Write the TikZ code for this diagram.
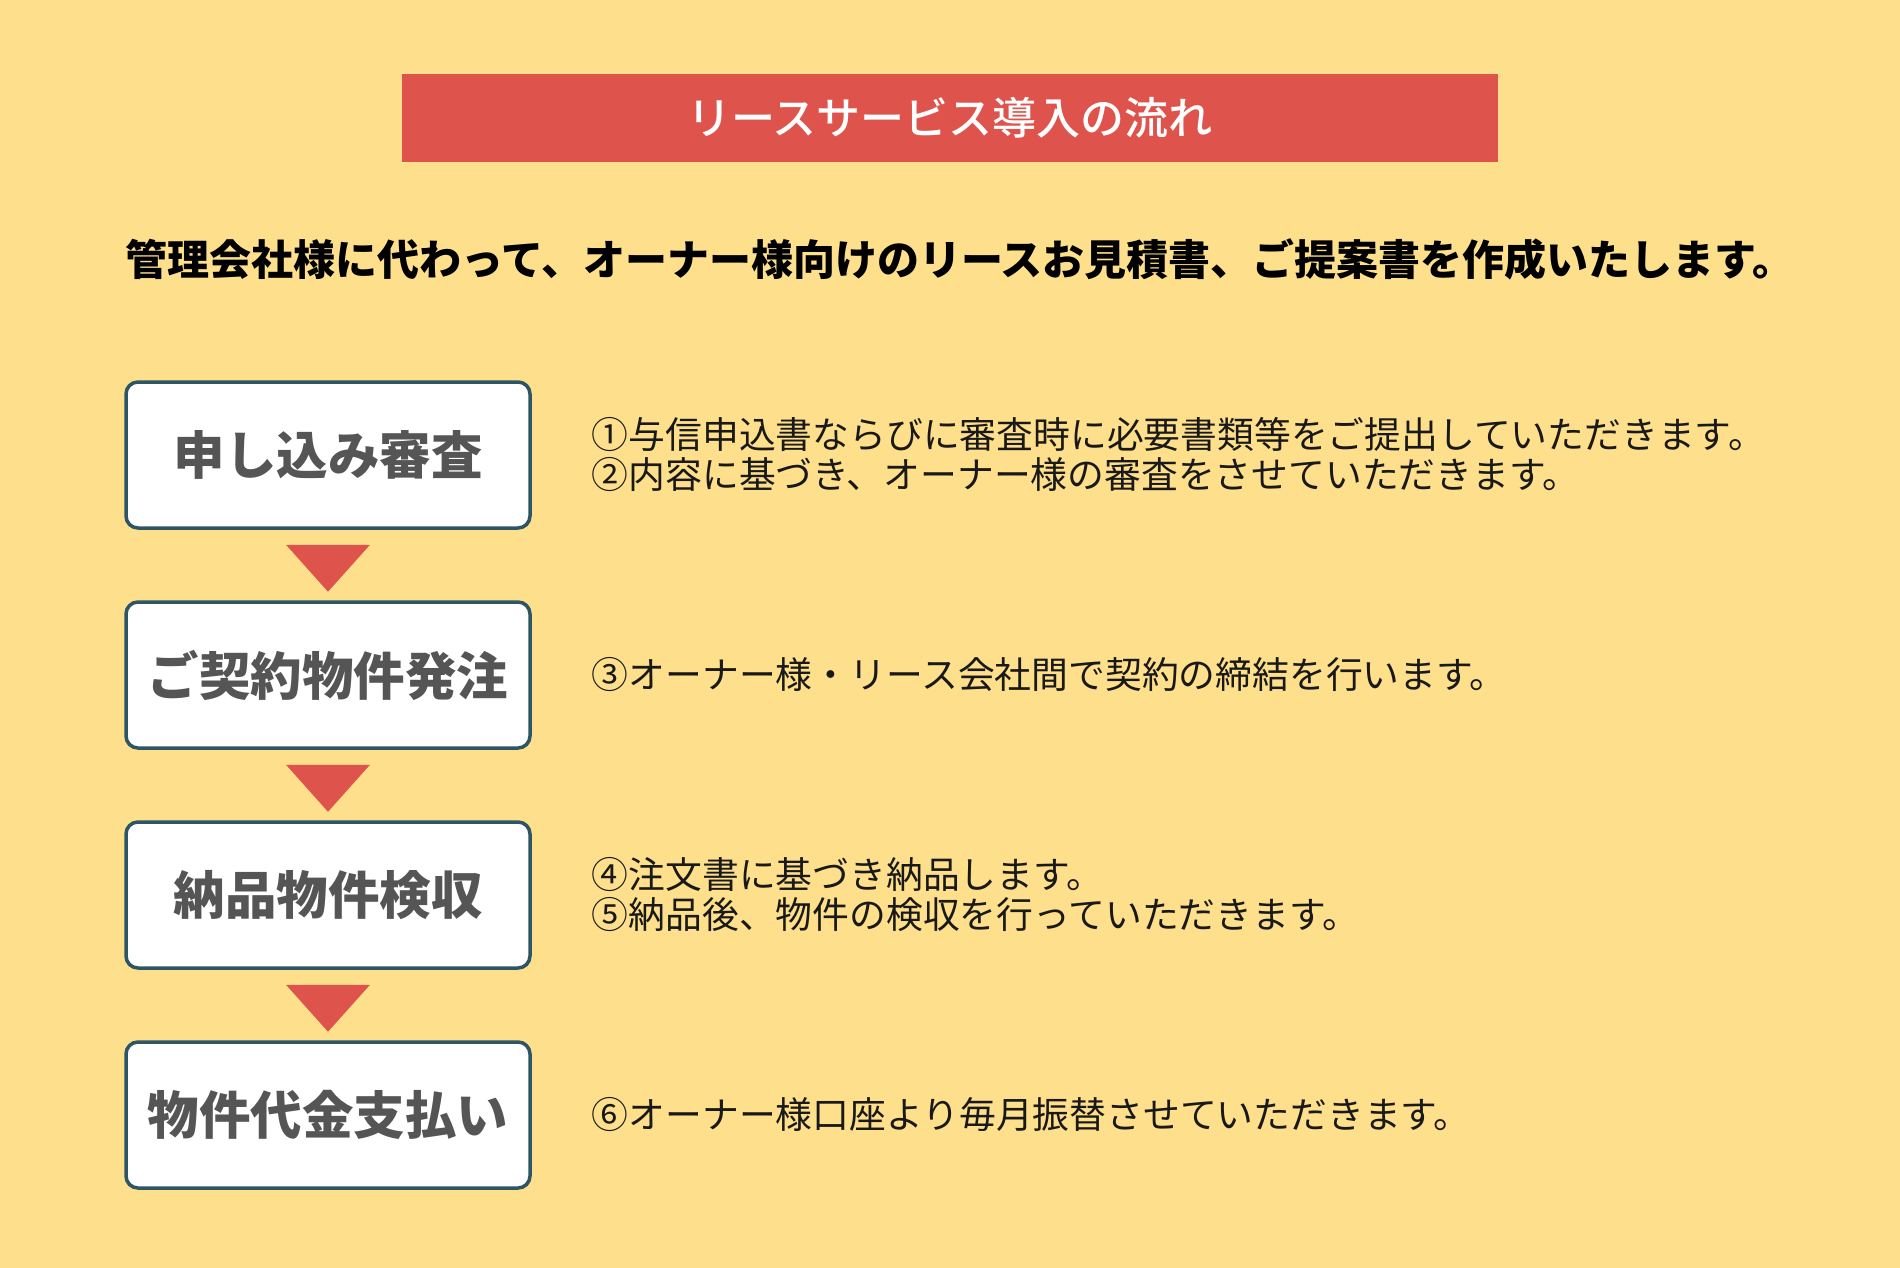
\documentclass[tikz,border=0pt]{standalone}
\usepackage{fontspec}
\setmainfont{Noto Sans CJK JP}
\newfontfamily\titlefont{Noto Sans CJK JP Medium}
\usetikzlibrary{positioning}
\usetikzlibrary{calc}
\definecolor{bgyellow}{HTML}{FEDF8C}
\definecolor{titlered}{HTML}{DE544C}
\definecolor{boxline}{HTML}{2E5566}
\definecolor{boxtext}{HTML}{555555}

\begin{document}
\begin{tikzpicture}[
    x=1pt, y=-1pt,
    block/.style={rectangle, rounded corners=12pt, draw=boxline, line width=3.5pt, fill=white, minimum width=404pt, minimum height=146pt, inner sep=0pt, text=boxtext, font=\fontsize{51.5}{60}\selectfont\bfseries},
    desc/.style={inner sep=0pt, align=left, text=black!90, font=\fontsize{36.8}{40}\selectfont},
    banner/.style={rectangle, fill=titlered, minimum width=1096pt, minimum height=88pt, inner sep=0pt, text=white, font=\titlefont\fontsize{44}{50}\selectfont},
    pointer/.style={fill=titlered},
]
    \fill[bgyellow] (0,0) rectangle (1900,1268);
    \useasboundingbox (0,0) rectangle (1900,1268);

    \node[banner] (T) at (950,118) {リースサービス導入の流れ};
    \node[inner sep=0pt, font=\fontsize{42}{48}\selectfont\bfseries] (S) at (960,259) {管理会社様に代わって、オーナー様向けのリースお見積書、ご提案書を作成いたします。};

    \node[block] (B1) at (328,455) {申し込み審査};
    \node[block] (B2) [below=70.5pt of B1] {ご契約物件発注};
    \node[block] (B3) [below=70.5pt of B2] {納品物件検収};
    \node[block] (B4) [below=70.5pt of B3] {物件代金支払い};

    \node[desc] (D1) [right=60pt of B1] {①与信申込書ならびに審査時に必要書類等をご提出していただきます。\\②内容に基づき、オーナー様の審査をさせていただきます。};
    \node[desc] (D2) [right=60pt of B2] {③オーナー様・リース会社間で契約の締結を行います。};
    \node[desc] (D3) [right=60pt of B3] {④注文書に基づき納品します。\\⑤納品後、物件の検収を行っていただきます。};
    \node[desc] (D4) [right=60pt of B4] {⑥オーナー様口座より毎月振替させていただきます。};

    \fill[pointer] ($(B1.south)+(-42,15)$) -- ($(B1.south)+(42,15)$) -- ($(B1.south)+(0,62)$) -- cycle;
    \fill[pointer] ($(B2.south)+(-42,15)$) -- ($(B2.south)+(42,15)$) -- ($(B2.south)+(0,62)$) -- cycle;
    \fill[pointer] ($(B3.south)+(-42,15)$) -- ($(B3.south)+(42,15)$) -- ($(B3.south)+(0,62)$) -- cycle;
\end{tikzpicture}
\end{document}
